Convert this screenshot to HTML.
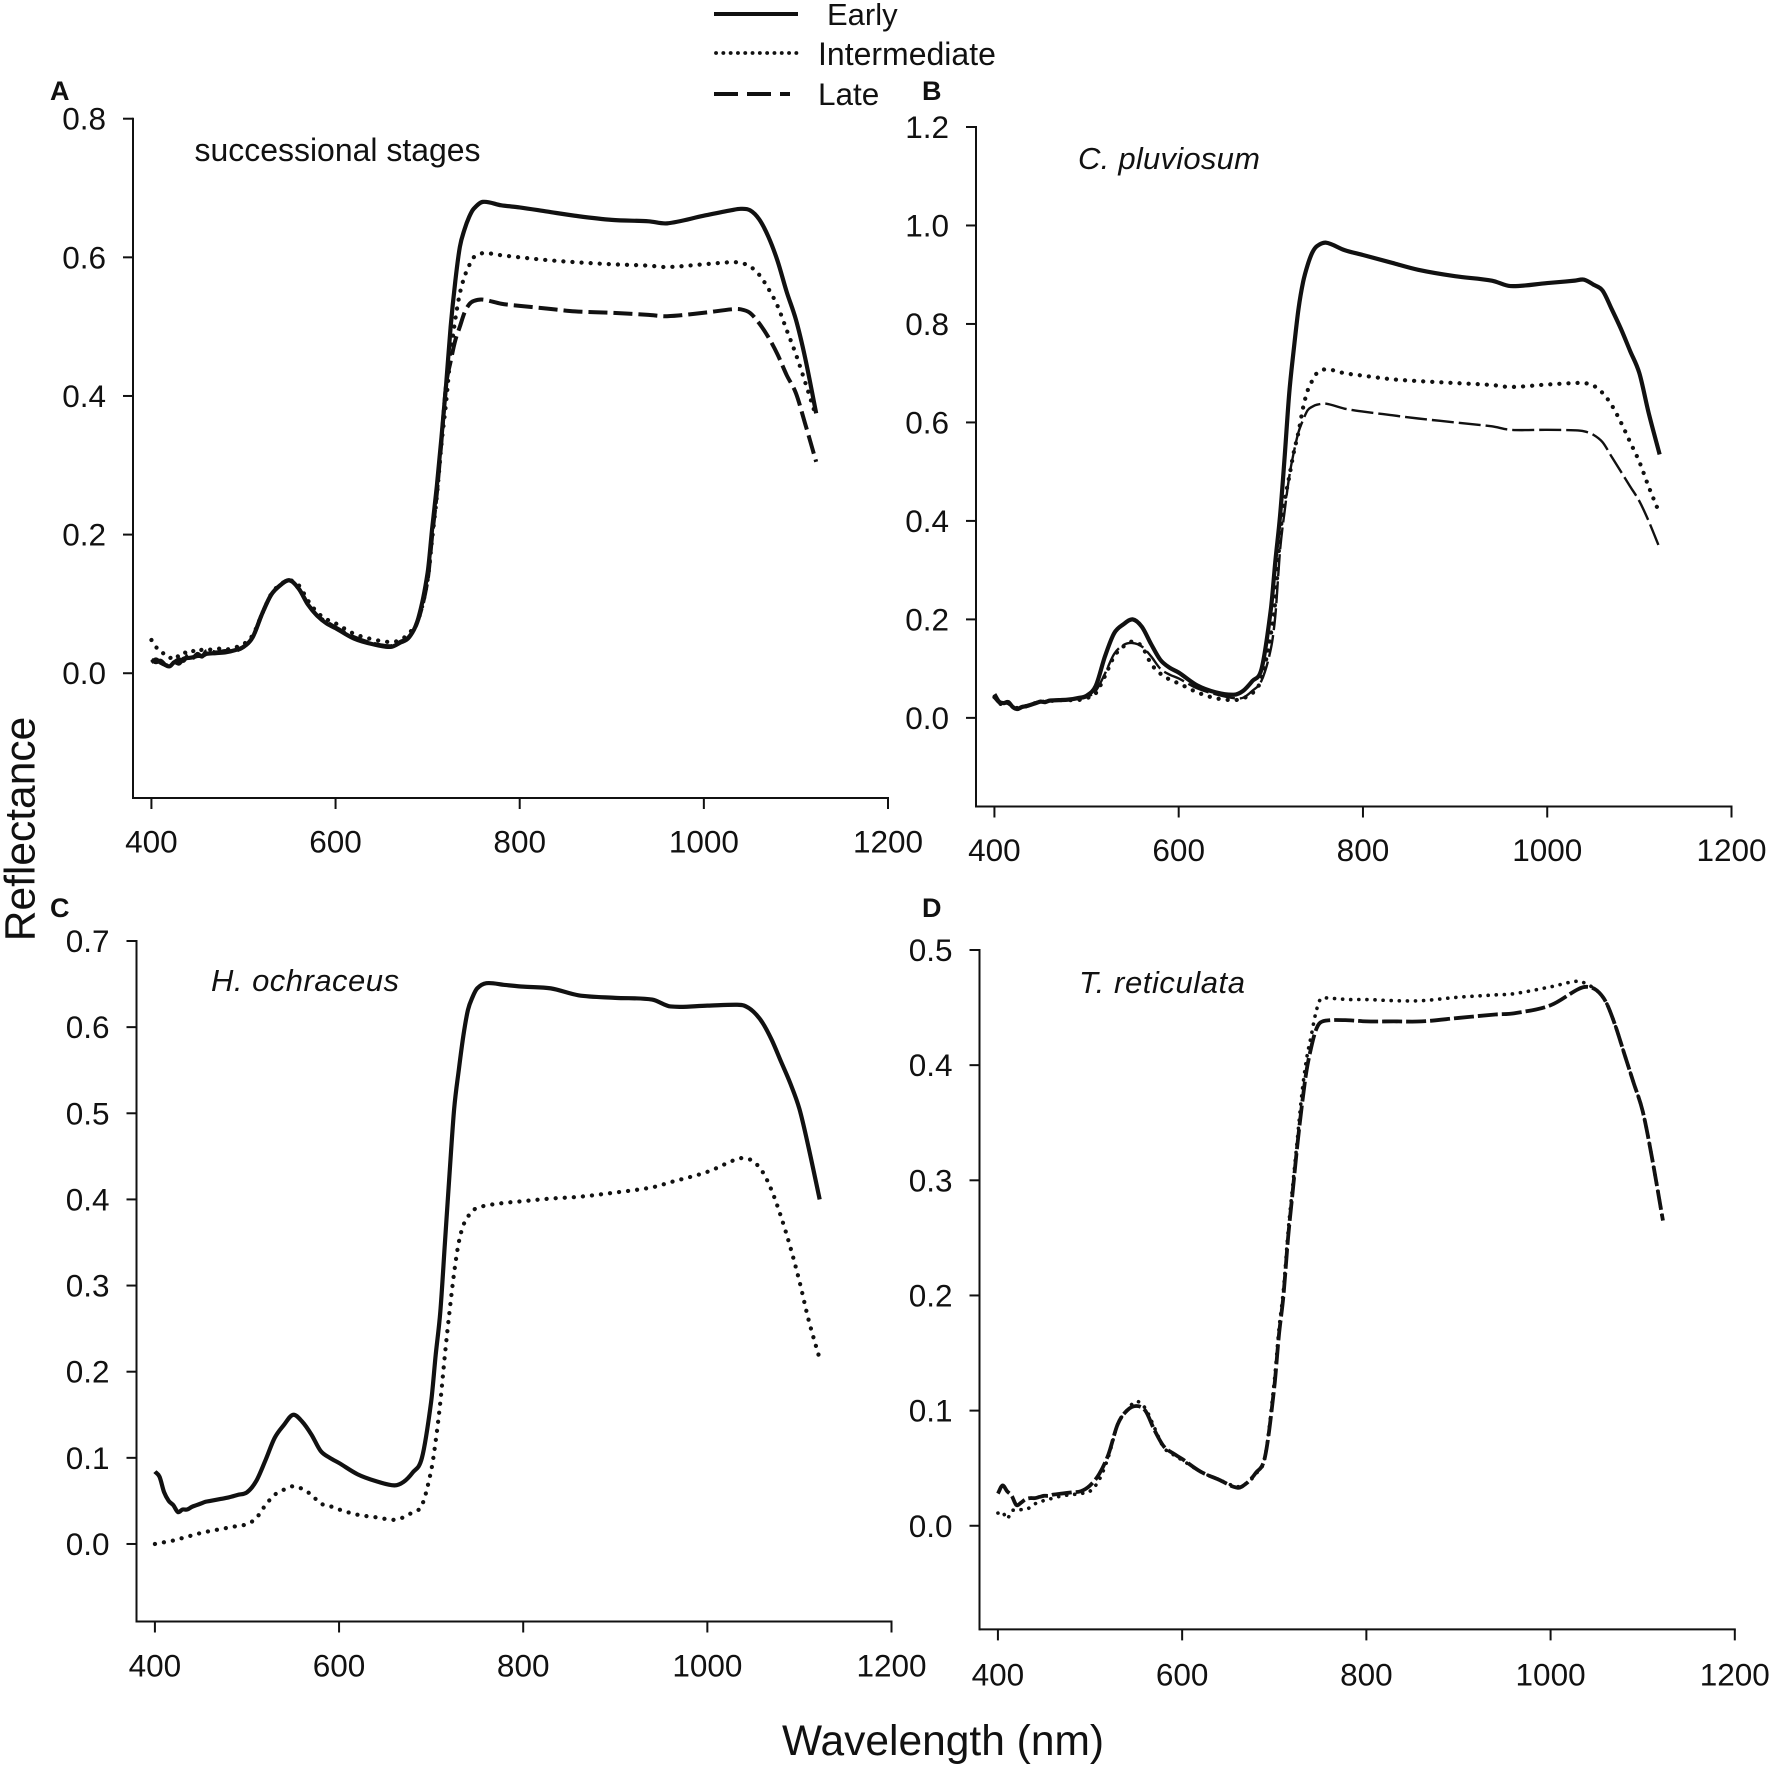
<!DOCTYPE html>
<html lang="en">
<head>
<meta charset="utf-8">
<title>Reflectance by wavelength</title>
<style>
html,body{margin:0;padding:0;background:#fff}
svg{display:block}
text{font-family:"Liberation Sans",Arial,sans-serif;fill:#111}
</style>
</head>
<body>
<svg id="figure" xmlns="http://www.w3.org/2000/svg" width="1772" height="1767" viewBox="0 0 1772 1767">
  <rect width="1772" height="1767" fill="#fff"/>
  <g>
    <line x1="714" y1="14" x2="798" y2="14" stroke="#111" stroke-width="4"/>
    <text x="827" y="25" font-size="31">Early</text>
    <line x1="716" y1="53" x2="798" y2="53" stroke="#111" stroke-width="3.8" stroke-linecap="round" stroke-dasharray="0.1 7.2"/>
    <text x="818" y="65" font-size="32">Intermediate</text>
    <line x1="714" y1="94" x2="790" y2="94" stroke="#111" stroke-width="4" stroke-dasharray="24 9"/>
    <text x="818" y="105" font-size="31.5">Late</text>
  </g>
  <text x="50" y="100" font-size="27" font-weight="bold">A</text>
  <text x="922" y="100" font-size="27" font-weight="bold">B</text>
  <text x="50" y="917" font-size="27" font-weight="bold">C</text>
  <text x="922" y="917" font-size="27" font-weight="bold">D</text>
  <text x="194.5" y="161" font-size="32" textLength="286" lengthAdjust="spacingAndGlyphs">successional stages</text>
  <text x="1078" y="169" font-size="31" font-style="italic" textLength="182" lengthAdjust="spacing">C. pluviosum</text>
  <text x="211" y="991" font-size="31" font-style="italic" textLength="188" lengthAdjust="spacing">H. ochraceus</text>
  <text x="1079" y="993" font-size="31" font-style="italic" textLength="166" lengthAdjust="spacing">T. reticulata</text>
  <text transform="translate(34.5 829) rotate(-90)" text-anchor="middle" font-size="42.5">Reflectance</text>
  <text x="782" y="1755" font-size="42.5">Wavelength (nm)</text>
</svg>
<script>
const wavelengths = [
400,405,410,415,420,
425,430,435,440,445,
450,455,460,470,480,
490,500,510,520,530,
540,550,560,570,580,
590,600,620,640,660,
670,680,690,700,705,
710,715,720,725,730,
735,740,745,750,760,
780,800,830,860,900,
940,960,1000,1030,1040,
1050,1060,1070,1080,1090,
1100,1110,1122];

const xTickLabels = ['400','600','800','1000','1200'];
const yTicksA = ['0.0','0.2','0.4','0.6','0.8'];
const yTicksB = ['0.0','0.2','0.4','0.6','0.8','1.0','1.2'];
const yTicksC = ['0.0','0.1','0.2','0.3','0.4','0.5','0.6','0.7'];
const yTicksD = ['0.0','0.1','0.2','0.3','0.4','0.5'];

const earlyA = [
.019,.016,.018,.012,.010,
.016,.014,.021,.022,.023,
.025,.025,.028,.029,.030,
.033,.038,.052,.085,.113,
.127,.134,.122,.099,.083,
.072,.065,.050,.042,.038,
.044,.052,.080,.145,.21,
.27,.34,.415,.50,.565,
.615,.64,.658,.67,.680,
.675,.672,.666,.660,.654,
.652,.649,.660,.668,.670,
.668,.655,.63,.595,.55,
.51,.455,.375];
const intermediateA = [
.048,.038,.030,.028,.022,
.027,.024,.030,.028,.032,
.030,.034,.033,.036,.034,
.037,.042,.055,.085,.114,
.128,.134,.127,.105,.088,
.078,.072,.057,.049,.045,
.048,.058,.078,.135,.195,
.255,.33,.39,.46,.51,
.548,.572,.588,.60,.606,
.603,.600,.596,.593,.590,
.588,.586,.590,.593,.592,
.587,.575,.555,.53,.495,
.46,.42,.37];
const lateA = [
.016,.020,.015,.012,.011,
.016,.020,.018,.026,.022,
.028,.024,.032,.030,.032,
.032,.038,.052,.085,.113,
.127,.134,.122,.100,.083,
.074,.066,.052,.043,.039,
.045,.053,.078,.135,.20,
.26,.335,.415,.45,.48,
.50,.52,.532,.537,.539,
.533,.530,.526,.522,.520,
.517,.515,.520,.525,.525,
.52,.505,.485,.46,.43,
.404,.36,.305];

const earlyB = [
.048,.033,.030,.032,.022,
.018,.022,.024,.027,.030,
.033,.032,.035,.036,.037,
.040,.045,.065,.125,.172,
.19,.20,.185,.15,.118,
.102,.092,.066,.052,.047,
.055,.075,.10,.22,.32,
.41,.53,.66,.75,.83,
.885,.92,.945,.958,.965,
.95,.94,.925,.91,.897,
.888,.877,.883,.888,.89,
.88,.868,.83,.79,.745,
.70,.62,.535];
const intermediateB = [
.042,.030,.028,.030,.022,
.020,.022,.024,.028,.030,
.032,.033,.034,.036,.036,
.036,.040,.050,.085,.125,
.145,.155,.145,.11,.09,
.078,.07,.052,.04,.036,
.04,.05,.08,.17,.24,
.37,.44,.49,.54,.58,
.63,.665,.685,.70,.708,
.70,.695,.688,.684,.68,
.676,.672,.677,.68,.68,
.675,.66,.635,.60,.56,
.52,.47,.415];
const lateB = [
.040,.030,.030,.028,.022,
.020,.024,.025,.028,.032,
.033,.034,.036,.037,.037,
.038,.042,.055,.09,.13,
.148,.152,.145,.125,.10,
.088,.08,.06,.048,.04,
.041,.055,.076,.14,.21,
.34,.42,.49,.54,.58,
.605,.625,.632,.636,.638,
.628,.622,.615,.608,.60,
.592,.585,.585,.584,.582,
.575,.56,.53,.50,.47,
.44,.40,.345];

const earlyC = [
.084,.078,.060,.050,.045,
.037,.040,.040,.043,.045,
.047,.049,.050,.052,.054,
.057,.060,.073,.097,.123,
.138,.150,.142,.127,.108,
.100,.094,.081,.073,.068,
.072,.083,.10,.165,.22,
.27,.35,.43,.505,.55,
.59,.62,.635,.645,.651,
.649,.647,.645,.637,.634,
.632,.624,.625,.626,.625,
.618,.605,.585,.56,.535,
.505,.46,.40];
const intermediateC = [
.000,.001,.002,.003,.004,
.005,.007,.008,.010,.011,
.013,.014,.015,.017,.019,
.021,.023,.030,.045,.057,
.063,.067,.064,.057,.047,
.044,.040,.034,.031,.028,
.031,.037,.045,.085,.12,
.165,.22,.27,.315,.35,
.37,.38,.387,.39,.393,
.396,.398,.401,.403,.408,
.414,.42,.432,.446,.448,
.444,.432,.41,.38,.345,
.305,.26,.215];

const intermediateD = [
.011,.012,.006,.013,.013,
.014,.014,.016,.019,.020,
.022,.023,.024,.026,.027,
.028,.030,.040,.060,.088,
.100,.108,.102,.085,.068,
.062,.057,.047,.040,.034,
.037,.045,.060,.125,.17,
.205,.255,.295,.335,.375,
.405,.425,.445,.457,.458,
.457,.457,.456,.456,.459,
.461,.462,.468,.473,.470,
.465,.455,.435,.41,.385,
.36,.32,.265];
const lateD = [
.028,.035,.030,.026,.018,
.020,.023,.024,.024,.025,
.026,.026,.027,.028,.029,
.030,.035,.045,.062,.088,
.100,.104,.100,.083,.069,
.063,.058,.047,.040,.033,
.037,.046,.060,.12,.165,
.20,.25,.29,.33,.365,
.395,.415,.43,.437,.439,
.439,.438,.438,.438,.441,
.444,.445,.452,.466,.468,
.465,.455,.435,.41,.385,
.36,.32,.265];

const NS = 'http://www.w3.org/2000/svg';
const svg = document.getElementById('figure');
const dotStyle = {width: 4.2, dash: '0.1 9', cap: 'round'};
const dotStyleD = {width: 3.6, dash: '0.1 8', cap: 'round'};
const solidStyle = {width: 4.2, dash: null, cap: 'butt'};

const panels = [
  {id: 'a', left: 133, right: 888, top: 118.7, bottom: 798, yMin: -0.18, yMax: 0.8, yTicks: yTicksA, xLabelY: 852.7,
   series: [
     {name: 'intermediate', values: intermediateA, style: dotStyle},
     {name: 'late', values: lateA, style: {width: 4, dash: '19 6', cap: 'butt'}},
     {name: 'early', values: earlyA, style: solidStyle}]},
  {id: 'b', left: 976, right: 1731.5, top: 127, bottom: 806.5, yMin: -0.18, yMax: 1.2, yTicks: yTicksB, xLabelY: 861,
   series: [
     {name: 'late', values: lateB, style: {width: 2.4, dash: '22 5', cap: 'butt'}},
     {name: 'intermediate', values: intermediateB, style: dotStyle},
     {name: 'early', values: earlyB, style: solidStyle}]},
  {id: 'c', left: 136.5, right: 891.5, top: 941, bottom: 1621.5, yMin: -0.09, yMax: 0.7, yTicks: yTicksC, xLabelY: 1676.5,
   series: [
     {name: 'intermediate', values: intermediateC, style: dotStyle},
     {name: 'early', values: earlyC, style: solidStyle}]},
  {id: 'd', left: 979.5, right: 1734.8, top: 950, bottom: 1629.4, yMin: -0.09, yMax: 0.5, yTicks: yTicksD, xLabelY: 1685.5,
   series: [
     {name: 'intermediate', values: intermediateD, style: dotStyleD},
     {name: 'late', values: lateD, style: {width: 3.8, dash: '20 4', cap: 'butt'}}]}
];

function make(tag, attrs, parent) {
  const el = document.createElementNS(NS, tag);
  for (const k in attrs) el.setAttribute(k, attrs[k]);
  parent.appendChild(el);
  return el;
}

function smoothPath(xs, ys) {
  const n = xs.length;
  const slope = function (i) {
    const a = Math.max(0, i - 1);
    const b = Math.min(n - 1, i + 1);
    return (ys[b] - ys[a]) / (xs[b] - xs[a]);
  };
  let d = 'M' + xs[0].toFixed(2) + ' ' + ys[0].toFixed(2);
  for (let i = 0; i < n - 1; i++) {
    const dx = xs[i + 1] - xs[i];
    const c1x = xs[i] + dx / 3;
    const c1y = ys[i] + slope(i) * dx / 3;
    const c2x = xs[i + 1] - dx / 3;
    const c2y = ys[i + 1] - slope(i + 1) * dx / 3;
    d += 'C' + c1x.toFixed(2) + ' ' + c1y.toFixed(2) + ' ' + c2x.toFixed(2) + ' ' + c2y.toFixed(2) + ' ' + xs[i + 1].toFixed(2) + ' ' + ys[i + 1].toFixed(2);
  }
  return d;
}

panels.forEach(function (p) {
  const xScale = function (v) { return p.left + (v - 380) / (1200 - 380) * (p.right - p.left); };
  const yScale = function (v) { return p.bottom - (v - p.yMin) / (p.yMax - p.yMin) * (p.bottom - p.top); };

  const group = make('g', {}, svg);
  
  

  const yAxis = make('line', {x1: p.left, x2: p.left, y1: p.top - 1, y2: p.bottom + 1, stroke: '#111', 'stroke-width': 2}, group);
  
  

  const xAxis = make('line', {x1: p.left, x2: p.right + 1, y1: p.bottom, y2: p.bottom, stroke: '#111', 'stroke-width': 2}, group);
  
  

  p.yTicks.forEach(function (label) {
    const y = yScale(Number(label));
    const tick = make('line', {x1: p.left - 10, x2: p.left, y1: y, y2: y, stroke: '#111', 'stroke-width': 2}, group);
    
    
    const text = make('text', {x: p.left - 27, y: y + 11, 'text-anchor': 'end', 'font-size': 31.5}, group);
    text.textContent = label;
    
    
  });

  xTickLabels.forEach(function (label) {
    const x = xScale(Number(label));
    const tick = make('line', {x1: x, x2: x, y1: p.bottom, y2: p.bottom + 11, stroke: '#111', 'stroke-width': 2}, group);
    
    
    const text = make('text', {x: x, y: p.xLabelY, 'text-anchor': 'middle', 'font-size': 31.5}, group);
    text.textContent = label;
    
    
  });

  p.series.forEach(function (s) {
    const xs = wavelengths.map(xScale);
    const ys = s.values.map(yScale);
    const attrs = {d: smoothPath(xs, ys), fill: 'none', stroke: '#111', 'stroke-width': s.style.width,
      'stroke-linejoin': 'round', 'stroke-linecap': s.style.cap};
    if (s.style.dash) attrs['stroke-dasharray'] = s.style.dash;
    const line = make('path', attrs, group);
    
    
  });
});
</script>
</body>
</html>
